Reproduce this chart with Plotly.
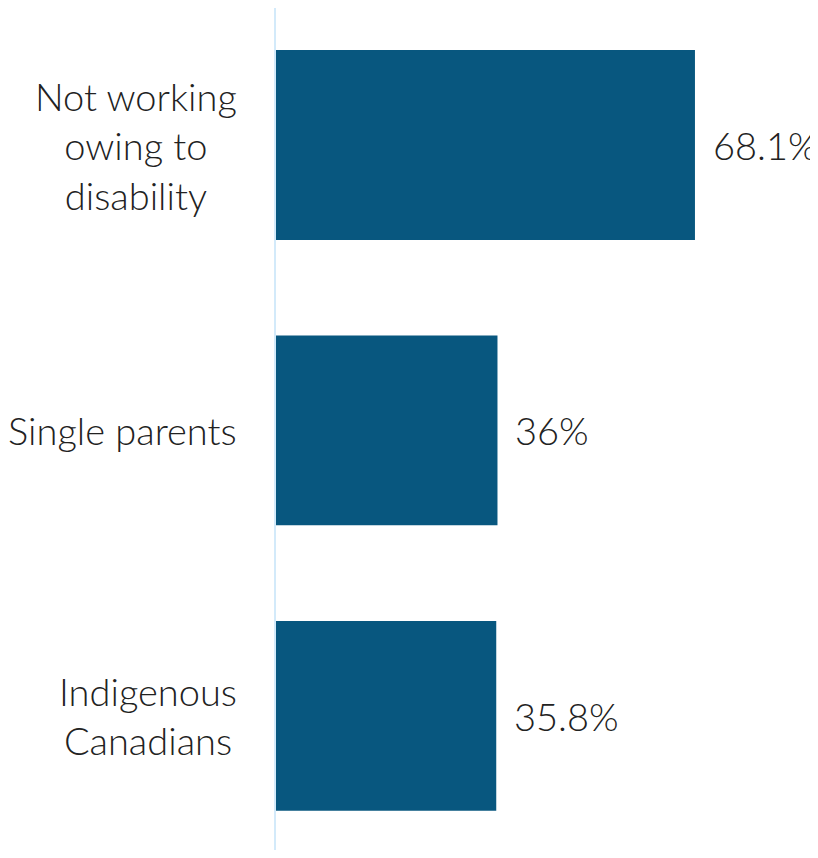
import plotly.graph_objects as go

# data
categories = ["Not working<br>owing to<br>disability", "Single parents", "Indigenous<br>Canadians"]
values = [68.1, 36.0, 35.8]
value_labels = ["68.1%", "36%", "35.8%"]

bar_color = "#08577f"
text_color = "#222222"
font_family = "Lato, 'Noto Sans', sans-serif"
label_font = dict(size=38, color=text_color, family=font_family, weight=300)

fig = go.Figure()

fig.add_trace(go.Bar(
    x=values,
    y=categories,
    orientation="h",
    marker=dict(color=bar_color, line=dict(width=0)),
    width=0.665,
    hoverinfo="skip",
))

for cat, val, lab in zip(categories, values, value_labels):
    # value label to the right of the bar
    fig.add_annotation(
        x=val, y=cat, text=lab,
        xanchor="left", yanchor="middle",
        xshift=16, showarrow=False,
        font=label_font,
    )
    # category label, lines centred inside a right-anchored block
    fig.add_annotation(
        x=0, y=cat, text=cat,
        xanchor="right", yanchor="middle", align="center",
        xshift=-37, showarrow=False,
        font=label_font,
    )

# page body has an 8px margin, so the figure is sized to what is visible
fig.update_layout(
    width=810, height=842,
    margin=dict(l=268, r=0, t=0, b=0),
    plot_bgcolor="white",
    paper_bgcolor="white",
    showlegend=False,
    font=label_font,
)

fig.update_xaxes(
    range=[0, 88.1],
    visible=False,
)

fig.update_yaxes(
    range=[2.47, -0.48],
    automargin=False,
    showticklabels=False,
    showline=True,
    linecolor="#d3eafa",
    linewidth=2,
    showgrid=False,
    ticks="",
)

fig.write_html("out.html")
